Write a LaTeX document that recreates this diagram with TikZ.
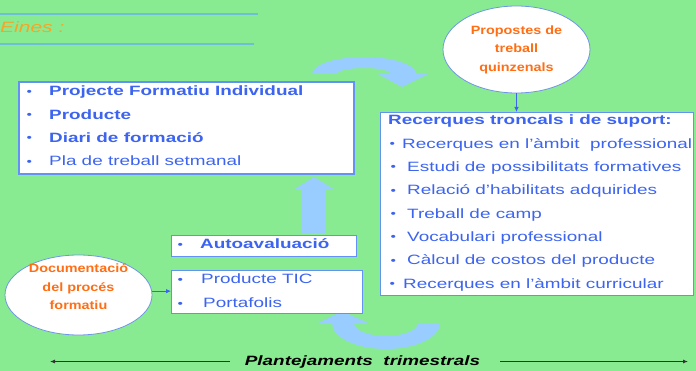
\documentclass[tikz,border=0pt]{standalone}
\usepackage{fontspec}
\usetikzlibrary{shapes.geometric,arrows.meta}
\newfontfamily\arialx{Liberation Sans}[FakeStretch=1.4]
\newfontfamily\arialy{Liberation Sans}[FakeStretch=1.2]
\definecolor{fons}{RGB}{137,235,145}
\definecolor{blau}{RGB}{60,100,240}
\definecolor{vora}{RGB}{100,145,245}
\definecolor{vorael}{RGB}{110,150,230}
\definecolor{blaucel}{RGB}{153,204,255}
\definecolor{taronja}{RGB}{255,110,20}
\definecolor{groc}{RGB}{245,165,40}
\definecolor{ratllacol}{RGB}{110,190,215}
\newcommand{\bul}[1]{\llap{\raisebox{0.5pt}{\makebox[0pt]{\fontsize{11}{11}\selectfont\textbullet}}\hspace{#1pt}}}

\begin{document}
\begin{tikzpicture}[x=1pt, y=-1pt]
    \tikzset{
        caixa/.style={draw=vora, line width=1pt, fill=white, anchor=north west, inner sep=0pt},
        linia/.style={font=\arialx\fontsize{13.5}{16}\selectfont, text=blau, anchor=base west, inner sep=0pt},
        bombolla/.style={ellipse, draw=vorael, line width=0.8pt, fill=white, inner sep=0pt},
        taronjatxt/.style={font=\arialy\bfseries\fontsize{12}{18.5}\selectfont, text=taronja, align=center, inner sep=0pt},
        fletxa/.style={fill=blaucel},
        enllac/.style={draw=blau, line width=0.8pt, -{Latex[length=5pt, width=4.5pt]}},
        eix/.style={draw=black!80, line width=0.8pt, -{Latex[length=5pt, width=4pt]}},
        ratlla/.style={draw=ratllacol, line width=1.2pt}
    }
    \useasboundingbox (0,0) rectangle (696,371);
    \fill[fons] (0,0) rectangle (696,371);

    \draw[ratlla] (0,14) -- (258,14);
    \draw[ratlla] (0,44) -- (254,44);
    \node[anchor=base west, inner sep=0pt, font=\arialx\itshape\fontsize{15}{18}\selectfont, text=groc] (eines) at (0,33) {Eines :};

    \fill[fletxa] (312,74) arc[start angle=180, end angle=360, x radius=52, y radius=17]
        -- (428,74) -- (402,87) -- (378,74) -- (391,74)
        arc[start angle=360, end angle=180, x radius=27, y radius=6] -- cycle;
    \fill[fletxa] (440,323) arc[start angle=0, end angle=180, x radius=54, y radius=26]
        -- (318,323) -- (342,311) -- (368,323) -- (354,323)
        arc[start angle=180, end angle=0, x radius=32, y radius=13] -- cycle;
    \fill[fletxa] (302,234) -- (302,190) -- (293,190) -- (314,177) -- (335,190) -- (325,190) -- (325,234) -- cycle;

    \node[caixa, line width=2pt, minimum width=335pt, minimum height=92pt] (pfi) at (18,81) {};
    \foreach \txt [count=\i] in {{\bfseries Projecte Formatiu Individual}, {\bfseries Producte}, {\bfseries Diari de formació}, Pla de treball setmanal}
        \node[linia] (pfi-\i) at (49,{72.8+23.2*\i}) {\bul{20}\txt};

    \node[caixa, minimum width=313pt, minimum height=183pt] (rec) at (380,112) {};
    \node[linia] (rec-0) at (388,125) {\bfseries Recerques troncals i de suport:};
    \foreach \x/\dx/\txt [count=\i] in {402/10/Recerques en l’àmbit\ \ professional, 407/14/Estudi de possibilitats formatives, 407/14/Relació d’habilitats adquirides, 407/14/Treball de camp, 407/14/Vocabulari professional, 407/14/Càlcul de costos del producte, 403/11/Recerques en l’àmbit curricular}
        \node[linia] (rec-\i) at (\x,{124.7+23.33*\i}) {\bul{\dx}\txt};

    \node[caixa, minimum width=185pt, minimum height=21pt] (auto) at (171,235) {};
    \node[linia] (auto-1) at (200,249) {\bul{20}\bfseries Autoavaluació};

    \node[caixa, minimum width=191pt, minimum height=43pt] (tic) at (171,270) {};
    \node[linia] (tic-1) at (201,284) {\bul{21}Producte TIC};
    \node[linia] (tic-2) at (203,308) {\bul{23}Portafolis};

    \node[bombolla, minimum width=147pt, minimum height=87pt, taronjatxt] (prop) at (516.5,49.5) {Propostes de\\treball\\quinzenals};
    \node[bombolla, minimum width=147pt, minimum height=80pt] (doc) at (78.5,295) {};
    \node[taronjatxt] (doc-t) at (78.5,287) {Documentació\\del procés\\formatiu};

    \draw[enllac] (prop.south) -- (prop.south |- rec.north);
    \draw[enllac] (doc.3) -- (doc.3 -| tic.west);

    \node[anchor=base, inner sep=0pt, font=\arialx\bfseries\itshape\fontsize{13.5}{16}\selectfont] (plan) at (362.5,365) {Plantejaments\ \ trimestrals};
    \coordinate (esq) at (50,362);
    \coordinate (dre) at (688,362);
    \draw[eix, shorten <=15pt] (plan.west) -- (plan.west -| esq);
    \draw[eix, shorten <=20pt] (plan.east) -- (plan.east -| dre);
\end{tikzpicture}
\end{document}
